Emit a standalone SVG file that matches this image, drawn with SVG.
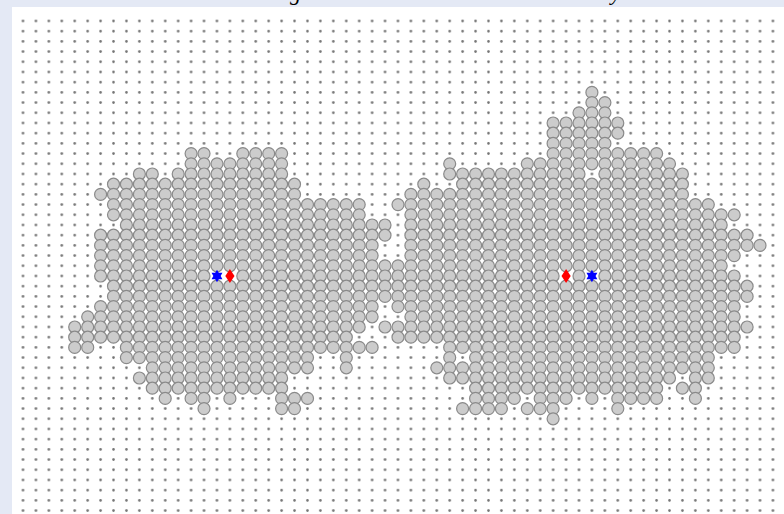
<svg xmlns="http://www.w3.org/2000/svg" width="784" height="514" viewBox="0 0 784 514">
<style>
.cells circle{fill:#cccccc;stroke:#8a8a8a;stroke-width:1.2}
.title{font-family:"Liberation Serif",serif;font-style:italic;font-size:22px;fill:#000}
</style>
<defs>
<pattern id="dots" x="16.535" y="15.9" width="12.93" height="10.2" patternUnits="userSpaceOnUse">
<circle cx="6.465" cy="5.1" r="1.3" fill="#747474"/>
</pattern>
</defs>
<rect x="0" y="0" width="784" height="514" fill="#e4e9f5"/>
<rect x="12" y="7" width="772" height="507" fill="#fff"/>
<rect id="grid" x="12" y="15" width="772" height="499" fill="url(#dots)"/>
<text class="title" x="290" y="0">g</text>
<text class="title" x="611" y="0">y</text>
<g id="cluster-left" class="cells">
<g transform="translate(0,153.6)"><circle cx="191.1" r="6"/><circle cx="204" r="6"/><circle cx="242.8" r="6"/><circle cx="255.7" r="6"/><circle cx="268.7" r="6"/><circle cx="281.6" r="6"/></g>
<g transform="translate(0,163.8)"><circle cx="191.1" r="6"/><circle cx="204" r="6"/><circle cx="217" r="6"/><circle cx="229.9" r="6"/><circle cx="242.8" r="6"/><circle cx="255.7" r="6"/><circle cx="268.7" r="6"/><circle cx="281.6" r="6"/></g>
<g transform="translate(0,174)"><circle cx="139.4" r="6"/><circle cx="152.3" r="6"/><circle cx="178.2" r="6"/><circle cx="191.1" r="6"/><circle cx="204" r="6"/><circle cx="217" r="6"/><circle cx="229.9" r="6"/><circle cx="242.8" r="6"/><circle cx="255.7" r="6"/><circle cx="268.7" r="6"/><circle cx="281.6" r="6"/></g>
<g transform="translate(0,184.2)"><circle cx="113.5" r="6"/><circle cx="126.4" r="6"/><circle cx="139.4" r="6"/><circle cx="152.3" r="6"/><circle cx="165.2" r="6"/><circle cx="178.2" r="6"/><circle cx="191.1" r="6"/><circle cx="204" r="6"/><circle cx="217" r="6"/><circle cx="229.9" r="6"/><circle cx="242.8" r="6"/><circle cx="255.7" r="6"/><circle cx="268.7" r="6"/><circle cx="281.6" r="6"/><circle cx="294.5" r="6"/></g>
<g transform="translate(0,194.4)"><circle cx="100.6" r="6"/><circle cx="113.5" r="6"/><circle cx="126.4" r="6"/><circle cx="139.4" r="6"/><circle cx="152.3" r="6"/><circle cx="165.2" r="6"/><circle cx="178.2" r="6"/><circle cx="191.1" r="6"/><circle cx="204" r="6"/><circle cx="217" r="6"/><circle cx="229.9" r="6"/><circle cx="242.8" r="6"/><circle cx="255.7" r="6"/><circle cx="268.7" r="6"/><circle cx="281.6" r="6"/><circle cx="294.5" r="6"/></g>
<g transform="translate(0,204.6)"><circle cx="113.5" r="6"/><circle cx="126.4" r="6"/><circle cx="139.4" r="6"/><circle cx="152.3" r="6"/><circle cx="165.2" r="6"/><circle cx="178.2" r="6"/><circle cx="191.1" r="6"/><circle cx="204" r="6"/><circle cx="217" r="6"/><circle cx="229.9" r="6"/><circle cx="242.8" r="6"/><circle cx="255.7" r="6"/><circle cx="268.7" r="6"/><circle cx="281.6" r="6"/><circle cx="294.5" r="6"/><circle cx="307.5" r="6"/><circle cx="320.4" r="6"/><circle cx="333.3" r="6"/><circle cx="346.3" r="6"/><circle cx="359.2" r="6"/></g>
<g transform="translate(0,214.8)"><circle cx="113.5" r="6"/><circle cx="126.4" r="6"/><circle cx="139.4" r="6"/><circle cx="152.3" r="6"/><circle cx="165.2" r="6"/><circle cx="178.2" r="6"/><circle cx="191.1" r="6"/><circle cx="204" r="6"/><circle cx="217" r="6"/><circle cx="229.9" r="6"/><circle cx="242.8" r="6"/><circle cx="255.7" r="6"/><circle cx="268.7" r="6"/><circle cx="281.6" r="6"/><circle cx="294.5" r="6"/><circle cx="307.5" r="6"/><circle cx="320.4" r="6"/><circle cx="333.3" r="6"/><circle cx="346.3" r="6"/><circle cx="359.2" r="6"/></g>
<g transform="translate(0,225)"><circle cx="126.4" r="6"/><circle cx="139.4" r="6"/><circle cx="152.3" r="6"/><circle cx="165.2" r="6"/><circle cx="178.2" r="6"/><circle cx="191.1" r="6"/><circle cx="204" r="6"/><circle cx="217" r="6"/><circle cx="229.9" r="6"/><circle cx="242.8" r="6"/><circle cx="255.7" r="6"/><circle cx="268.7" r="6"/><circle cx="281.6" r="6"/><circle cx="294.5" r="6"/><circle cx="307.5" r="6"/><circle cx="320.4" r="6"/><circle cx="333.3" r="6"/><circle cx="346.3" r="6"/><circle cx="359.2" r="6"/><circle cx="372.1" r="6"/><circle cx="385" r="6"/></g>
<g transform="translate(0,235.2)"><circle cx="100.6" r="6"/><circle cx="113.5" r="6"/><circle cx="126.4" r="6"/><circle cx="139.4" r="6"/><circle cx="152.3" r="6"/><circle cx="165.2" r="6"/><circle cx="178.2" r="6"/><circle cx="191.1" r="6"/><circle cx="204" r="6"/><circle cx="217" r="6"/><circle cx="229.9" r="6"/><circle cx="242.8" r="6"/><circle cx="255.7" r="6"/><circle cx="268.7" r="6"/><circle cx="281.6" r="6"/><circle cx="294.5" r="6"/><circle cx="307.5" r="6"/><circle cx="320.4" r="6"/><circle cx="333.3" r="6"/><circle cx="346.3" r="6"/><circle cx="359.2" r="6"/><circle cx="372.1" r="6"/><circle cx="385" r="6"/></g>
<g transform="translate(0,245.4)"><circle cx="100.6" r="6"/><circle cx="113.5" r="6"/><circle cx="126.4" r="6"/><circle cx="139.4" r="6"/><circle cx="152.3" r="6"/><circle cx="165.2" r="6"/><circle cx="178.2" r="6"/><circle cx="191.1" r="6"/><circle cx="204" r="6"/><circle cx="217" r="6"/><circle cx="229.9" r="6"/><circle cx="242.8" r="6"/><circle cx="255.7" r="6"/><circle cx="268.7" r="6"/><circle cx="281.6" r="6"/><circle cx="294.5" r="6"/><circle cx="307.5" r="6"/><circle cx="320.4" r="6"/><circle cx="333.3" r="6"/><circle cx="346.3" r="6"/><circle cx="359.2" r="6"/><circle cx="372.1" r="6"/></g>
<g transform="translate(0,255.6)"><circle cx="100.6" r="6"/><circle cx="113.5" r="6"/><circle cx="126.4" r="6"/><circle cx="139.4" r="6"/><circle cx="152.3" r="6"/><circle cx="165.2" r="6"/><circle cx="178.2" r="6"/><circle cx="191.1" r="6"/><circle cx="204" r="6"/><circle cx="217" r="6"/><circle cx="229.9" r="6"/><circle cx="242.8" r="6"/><circle cx="255.7" r="6"/><circle cx="268.7" r="6"/><circle cx="281.6" r="6"/><circle cx="294.5" r="6"/><circle cx="307.5" r="6"/><circle cx="320.4" r="6"/><circle cx="333.3" r="6"/><circle cx="346.3" r="6"/><circle cx="359.2" r="6"/><circle cx="372.1" r="6"/></g>
<g transform="translate(0,265.8)"><circle cx="100.6" r="6"/><circle cx="113.5" r="6"/><circle cx="126.4" r="6"/><circle cx="139.4" r="6"/><circle cx="152.3" r="6"/><circle cx="165.2" r="6"/><circle cx="178.2" r="6"/><circle cx="191.1" r="6"/><circle cx="204" r="6"/><circle cx="217" r="6"/><circle cx="229.9" r="6"/><circle cx="242.8" r="6"/><circle cx="255.7" r="6"/><circle cx="268.7" r="6"/><circle cx="281.6" r="6"/><circle cx="294.5" r="6"/><circle cx="307.5" r="6"/><circle cx="320.4" r="6"/><circle cx="333.3" r="6"/><circle cx="346.3" r="6"/><circle cx="359.2" r="6"/><circle cx="372.1" r="6"/><circle cx="385" r="6"/></g>
<g transform="translate(0,276)"><circle cx="100.6" r="6"/><circle cx="113.5" r="6"/><circle cx="126.4" r="6"/><circle cx="139.4" r="6"/><circle cx="152.3" r="6"/><circle cx="165.2" r="6"/><circle cx="178.2" r="6"/><circle cx="191.1" r="6"/><circle cx="204" r="6"/><circle cx="242.8" r="6"/><circle cx="255.7" r="6"/><circle cx="268.7" r="6"/><circle cx="281.6" r="6"/><circle cx="294.5" r="6"/><circle cx="307.5" r="6"/><circle cx="320.4" r="6"/><circle cx="333.3" r="6"/><circle cx="346.3" r="6"/><circle cx="359.2" r="6"/><circle cx="372.1" r="6"/><circle cx="385" r="6"/></g>
<g transform="translate(0,286.2)"><circle cx="113.5" r="6"/><circle cx="126.4" r="6"/><circle cx="139.4" r="6"/><circle cx="152.3" r="6"/><circle cx="165.2" r="6"/><circle cx="178.2" r="6"/><circle cx="191.1" r="6"/><circle cx="204" r="6"/><circle cx="217" r="6"/><circle cx="229.9" r="6"/><circle cx="242.8" r="6"/><circle cx="255.7" r="6"/><circle cx="268.7" r="6"/><circle cx="281.6" r="6"/><circle cx="294.5" r="6"/><circle cx="307.5" r="6"/><circle cx="320.4" r="6"/><circle cx="333.3" r="6"/><circle cx="346.3" r="6"/><circle cx="359.2" r="6"/><circle cx="372.1" r="6"/><circle cx="385" r="6"/></g>
<g transform="translate(0,296.4)"><circle cx="113.5" r="6"/><circle cx="126.4" r="6"/><circle cx="139.4" r="6"/><circle cx="152.3" r="6"/><circle cx="165.2" r="6"/><circle cx="178.2" r="6"/><circle cx="191.1" r="6"/><circle cx="204" r="6"/><circle cx="217" r="6"/><circle cx="229.9" r="6"/><circle cx="242.8" r="6"/><circle cx="255.7" r="6"/><circle cx="268.7" r="6"/><circle cx="281.6" r="6"/><circle cx="294.5" r="6"/><circle cx="307.5" r="6"/><circle cx="320.4" r="6"/><circle cx="333.3" r="6"/><circle cx="346.3" r="6"/><circle cx="359.2" r="6"/><circle cx="372.1" r="6"/><circle cx="385" r="6"/></g>
<g transform="translate(0,306.6)"><circle cx="100.6" r="6"/><circle cx="113.5" r="6"/><circle cx="126.4" r="6"/><circle cx="139.4" r="6"/><circle cx="152.3" r="6"/><circle cx="165.2" r="6"/><circle cx="178.2" r="6"/><circle cx="191.1" r="6"/><circle cx="204" r="6"/><circle cx="217" r="6"/><circle cx="229.9" r="6"/><circle cx="242.8" r="6"/><circle cx="255.7" r="6"/><circle cx="268.7" r="6"/><circle cx="281.6" r="6"/><circle cx="294.5" r="6"/><circle cx="307.5" r="6"/><circle cx="320.4" r="6"/><circle cx="333.3" r="6"/><circle cx="346.3" r="6"/><circle cx="359.2" r="6"/><circle cx="372.1" r="6"/></g>
<g transform="translate(0,316.8)"><circle cx="87.7" r="6"/><circle cx="100.6" r="6"/><circle cx="113.5" r="6"/><circle cx="126.4" r="6"/><circle cx="139.4" r="6"/><circle cx="152.3" r="6"/><circle cx="165.2" r="6"/><circle cx="178.2" r="6"/><circle cx="191.1" r="6"/><circle cx="204" r="6"/><circle cx="217" r="6"/><circle cx="229.9" r="6"/><circle cx="242.8" r="6"/><circle cx="255.7" r="6"/><circle cx="268.7" r="6"/><circle cx="281.6" r="6"/><circle cx="294.5" r="6"/><circle cx="307.5" r="6"/><circle cx="320.4" r="6"/><circle cx="333.3" r="6"/><circle cx="346.3" r="6"/><circle cx="359.2" r="6"/><circle cx="372.1" r="6"/></g>
<g transform="translate(0,327)"><circle cx="74.7" r="6"/><circle cx="87.7" r="6"/><circle cx="100.6" r="6"/><circle cx="113.5" r="6"/><circle cx="126.4" r="6"/><circle cx="139.4" r="6"/><circle cx="152.3" r="6"/><circle cx="165.2" r="6"/><circle cx="178.2" r="6"/><circle cx="191.1" r="6"/><circle cx="204" r="6"/><circle cx="217" r="6"/><circle cx="229.9" r="6"/><circle cx="242.8" r="6"/><circle cx="255.7" r="6"/><circle cx="268.7" r="6"/><circle cx="281.6" r="6"/><circle cx="294.5" r="6"/><circle cx="307.5" r="6"/><circle cx="320.4" r="6"/><circle cx="333.3" r="6"/><circle cx="346.3" r="6"/><circle cx="359.2" r="6"/><circle cx="385" r="6"/></g>
<g transform="translate(0,337.2)"><circle cx="74.7" r="6"/><circle cx="87.7" r="6"/><circle cx="100.6" r="6"/><circle cx="113.5" r="6"/><circle cx="126.4" r="6"/><circle cx="139.4" r="6"/><circle cx="152.3" r="6"/><circle cx="165.2" r="6"/><circle cx="178.2" r="6"/><circle cx="191.1" r="6"/><circle cx="204" r="6"/><circle cx="217" r="6"/><circle cx="229.9" r="6"/><circle cx="242.8" r="6"/><circle cx="255.7" r="6"/><circle cx="268.7" r="6"/><circle cx="281.6" r="6"/><circle cx="294.5" r="6"/><circle cx="307.5" r="6"/><circle cx="320.4" r="6"/><circle cx="333.3" r="6"/><circle cx="346.3" r="6"/></g>
<g transform="translate(0,347.4)"><circle cx="74.7" r="6"/><circle cx="87.7" r="6"/><circle cx="126.4" r="6"/><circle cx="139.4" r="6"/><circle cx="152.3" r="6"/><circle cx="165.2" r="6"/><circle cx="178.2" r="6"/><circle cx="191.1" r="6"/><circle cx="204" r="6"/><circle cx="217" r="6"/><circle cx="229.9" r="6"/><circle cx="242.8" r="6"/><circle cx="255.7" r="6"/><circle cx="268.7" r="6"/><circle cx="281.6" r="6"/><circle cx="294.5" r="6"/><circle cx="307.5" r="6"/><circle cx="320.4" r="6"/><circle cx="333.3" r="6"/><circle cx="346.3" r="6"/><circle cx="359.2" r="6"/><circle cx="372.1" r="6"/></g>
<g transform="translate(0,357.6)"><circle cx="126.4" r="6"/><circle cx="139.4" r="6"/><circle cx="152.3" r="6"/><circle cx="165.2" r="6"/><circle cx="178.2" r="6"/><circle cx="191.1" r="6"/><circle cx="204" r="6"/><circle cx="217" r="6"/><circle cx="229.9" r="6"/><circle cx="242.8" r="6"/><circle cx="255.7" r="6"/><circle cx="268.7" r="6"/><circle cx="281.6" r="6"/><circle cx="294.5" r="6"/><circle cx="307.5" r="6"/><circle cx="346.3" r="6"/></g>
<g transform="translate(0,367.8)"><circle cx="152.3" r="6"/><circle cx="165.2" r="6"/><circle cx="178.2" r="6"/><circle cx="191.1" r="6"/><circle cx="204" r="6"/><circle cx="217" r="6"/><circle cx="229.9" r="6"/><circle cx="242.8" r="6"/><circle cx="255.7" r="6"/><circle cx="268.7" r="6"/><circle cx="281.6" r="6"/><circle cx="294.5" r="6"/><circle cx="307.5" r="6"/><circle cx="346.3" r="6"/></g>
<g transform="translate(0,378)"><circle cx="139.4" r="6"/><circle cx="152.3" r="6"/><circle cx="165.2" r="6"/><circle cx="178.2" r="6"/><circle cx="191.1" r="6"/><circle cx="204" r="6"/><circle cx="217" r="6"/><circle cx="229.9" r="6"/><circle cx="242.8" r="6"/><circle cx="255.7" r="6"/><circle cx="268.7" r="6"/><circle cx="281.6" r="6"/></g>
<g transform="translate(0,388.2)"><circle cx="152.3" r="6"/><circle cx="165.2" r="6"/><circle cx="178.2" r="6"/><circle cx="191.1" r="6"/><circle cx="204" r="6"/><circle cx="217" r="6"/><circle cx="229.9" r="6"/><circle cx="242.8" r="6"/><circle cx="255.7" r="6"/><circle cx="268.7" r="6"/><circle cx="281.6" r="6"/></g>
<g transform="translate(0,398.4)"><circle cx="165.2" r="6"/><circle cx="191.1" r="6"/><circle cx="204" r="6"/><circle cx="229.9" r="6"/><circle cx="281.6" r="6"/><circle cx="294.5" r="6"/><circle cx="307.5" r="6"/></g>
<g transform="translate(0,408.6)"><circle cx="204" r="6"/><circle cx="281.6" r="6"/><circle cx="294.5" r="6"/></g>
</g>
<g id="cluster-right" class="cells">
<g transform="translate(0,92.4)"><circle cx="591.9" r="6"/></g>
<g transform="translate(0,102.6)"><circle cx="591.9" r="6"/><circle cx="604.9" r="6"/></g>
<g transform="translate(0,112.8)"><circle cx="579" r="6"/><circle cx="591.9" r="6"/><circle cx="604.9" r="6"/></g>
<g transform="translate(0,123)"><circle cx="553.1" r="6"/><circle cx="566.1" r="6"/><circle cx="579" r="6"/><circle cx="591.9" r="6"/><circle cx="604.9" r="6"/><circle cx="617.8" r="6"/></g>
<g transform="translate(0,133.2)"><circle cx="553.1" r="6"/><circle cx="566.1" r="6"/><circle cx="579" r="6"/><circle cx="591.9" r="6"/><circle cx="604.9" r="6"/><circle cx="617.8" r="6"/></g>
<g transform="translate(0,143.4)"><circle cx="553.1" r="6"/><circle cx="566.1" r="6"/><circle cx="579" r="6"/><circle cx="591.9" r="6"/><circle cx="604.9" r="6"/></g>
<g transform="translate(0,153.6)"><circle cx="553.1" r="6"/><circle cx="566.1" r="6"/><circle cx="579" r="6"/><circle cx="591.9" r="6"/><circle cx="604.9" r="6"/><circle cx="617.8" r="6"/><circle cx="630.7" r="6"/><circle cx="643.6" r="6"/><circle cx="656.6" r="6"/></g>
<g transform="translate(0,163.8)"><circle cx="449.7" r="6"/><circle cx="527.3" r="6"/><circle cx="540.2" r="6"/><circle cx="553.1" r="6"/><circle cx="566.1" r="6"/><circle cx="579" r="6"/><circle cx="591.9" r="6"/><circle cx="604.9" r="6"/><circle cx="617.8" r="6"/><circle cx="630.7" r="6"/><circle cx="643.6" r="6"/><circle cx="656.6" r="6"/><circle cx="669.5" r="6"/></g>
<g transform="translate(0,174)"><circle cx="449.7" r="6"/><circle cx="462.6" r="6"/><circle cx="475.6" r="6"/><circle cx="488.5" r="6"/><circle cx="501.4" r="6"/><circle cx="514.3" r="6"/><circle cx="527.3" r="6"/><circle cx="540.2" r="6"/><circle cx="553.1" r="6"/><circle cx="566.1" r="6"/><circle cx="579" r="6"/><circle cx="604.9" r="6"/><circle cx="617.8" r="6"/><circle cx="630.7" r="6"/><circle cx="643.6" r="6"/><circle cx="656.6" r="6"/><circle cx="669.5" r="6"/><circle cx="682.4" r="6"/></g>
<g transform="translate(0,184.2)"><circle cx="423.8" r="6"/><circle cx="462.6" r="6"/><circle cx="475.6" r="6"/><circle cx="488.5" r="6"/><circle cx="501.4" r="6"/><circle cx="514.3" r="6"/><circle cx="527.3" r="6"/><circle cx="540.2" r="6"/><circle cx="553.1" r="6"/><circle cx="566.1" r="6"/><circle cx="579" r="6"/><circle cx="591.9" r="6"/><circle cx="604.9" r="6"/><circle cx="617.8" r="6"/><circle cx="630.7" r="6"/><circle cx="643.6" r="6"/><circle cx="656.6" r="6"/><circle cx="669.5" r="6"/><circle cx="682.4" r="6"/></g>
<g transform="translate(0,194.4)"><circle cx="410.9" r="6"/><circle cx="423.8" r="6"/><circle cx="436.8" r="6"/><circle cx="449.7" r="6"/><circle cx="462.6" r="6"/><circle cx="475.6" r="6"/><circle cx="488.5" r="6"/><circle cx="501.4" r="6"/><circle cx="514.3" r="6"/><circle cx="527.3" r="6"/><circle cx="540.2" r="6"/><circle cx="553.1" r="6"/><circle cx="566.1" r="6"/><circle cx="579" r="6"/><circle cx="591.9" r="6"/><circle cx="604.9" r="6"/><circle cx="617.8" r="6"/><circle cx="630.7" r="6"/><circle cx="643.6" r="6"/><circle cx="656.6" r="6"/><circle cx="669.5" r="6"/><circle cx="682.4" r="6"/></g>
<g transform="translate(0,204.6)"><circle cx="398" r="6"/><circle cx="410.9" r="6"/><circle cx="423.8" r="6"/><circle cx="436.8" r="6"/><circle cx="449.7" r="6"/><circle cx="462.6" r="6"/><circle cx="475.6" r="6"/><circle cx="488.5" r="6"/><circle cx="501.4" r="6"/><circle cx="514.3" r="6"/><circle cx="527.3" r="6"/><circle cx="540.2" r="6"/><circle cx="553.1" r="6"/><circle cx="566.1" r="6"/><circle cx="579" r="6"/><circle cx="591.9" r="6"/><circle cx="604.9" r="6"/><circle cx="617.8" r="6"/><circle cx="630.7" r="6"/><circle cx="643.6" r="6"/><circle cx="656.6" r="6"/><circle cx="669.5" r="6"/><circle cx="682.4" r="6"/><circle cx="695.4" r="6"/><circle cx="708.3" r="6"/></g>
<g transform="translate(0,214.8)"><circle cx="410.9" r="6"/><circle cx="423.8" r="6"/><circle cx="436.8" r="6"/><circle cx="449.7" r="6"/><circle cx="462.6" r="6"/><circle cx="475.6" r="6"/><circle cx="488.5" r="6"/><circle cx="501.4" r="6"/><circle cx="514.3" r="6"/><circle cx="527.3" r="6"/><circle cx="540.2" r="6"/><circle cx="553.1" r="6"/><circle cx="566.1" r="6"/><circle cx="579" r="6"/><circle cx="591.9" r="6"/><circle cx="604.9" r="6"/><circle cx="617.8" r="6"/><circle cx="630.7" r="6"/><circle cx="643.6" r="6"/><circle cx="656.6" r="6"/><circle cx="669.5" r="6"/><circle cx="682.4" r="6"/><circle cx="695.4" r="6"/><circle cx="708.3" r="6"/><circle cx="721.2" r="6"/><circle cx="734.2" r="6"/></g>
<g transform="translate(0,225)"><circle cx="410.9" r="6"/><circle cx="423.8" r="6"/><circle cx="436.8" r="6"/><circle cx="449.7" r="6"/><circle cx="462.6" r="6"/><circle cx="475.6" r="6"/><circle cx="488.5" r="6"/><circle cx="501.4" r="6"/><circle cx="514.3" r="6"/><circle cx="527.3" r="6"/><circle cx="540.2" r="6"/><circle cx="553.1" r="6"/><circle cx="566.1" r="6"/><circle cx="579" r="6"/><circle cx="591.9" r="6"/><circle cx="604.9" r="6"/><circle cx="617.8" r="6"/><circle cx="630.7" r="6"/><circle cx="643.6" r="6"/><circle cx="656.6" r="6"/><circle cx="669.5" r="6"/><circle cx="682.4" r="6"/><circle cx="695.4" r="6"/><circle cx="708.3" r="6"/><circle cx="721.2" r="6"/></g>
<g transform="translate(0,235.2)"><circle cx="410.9" r="6"/><circle cx="423.8" r="6"/><circle cx="436.8" r="6"/><circle cx="449.7" r="6"/><circle cx="462.6" r="6"/><circle cx="475.6" r="6"/><circle cx="488.5" r="6"/><circle cx="501.4" r="6"/><circle cx="514.3" r="6"/><circle cx="527.3" r="6"/><circle cx="540.2" r="6"/><circle cx="553.1" r="6"/><circle cx="566.1" r="6"/><circle cx="579" r="6"/><circle cx="591.9" r="6"/><circle cx="604.9" r="6"/><circle cx="617.8" r="6"/><circle cx="630.7" r="6"/><circle cx="643.6" r="6"/><circle cx="656.6" r="6"/><circle cx="669.5" r="6"/><circle cx="682.4" r="6"/><circle cx="695.4" r="6"/><circle cx="708.3" r="6"/><circle cx="721.2" r="6"/><circle cx="734.2" r="6"/><circle cx="747.1" r="6"/></g>
<g transform="translate(0,245.4)"><circle cx="410.9" r="6"/><circle cx="423.8" r="6"/><circle cx="436.8" r="6"/><circle cx="449.7" r="6"/><circle cx="462.6" r="6"/><circle cx="475.6" r="6"/><circle cx="488.5" r="6"/><circle cx="501.4" r="6"/><circle cx="514.3" r="6"/><circle cx="527.3" r="6"/><circle cx="540.2" r="6"/><circle cx="553.1" r="6"/><circle cx="566.1" r="6"/><circle cx="579" r="6"/><circle cx="591.9" r="6"/><circle cx="604.9" r="6"/><circle cx="617.8" r="6"/><circle cx="630.7" r="6"/><circle cx="643.6" r="6"/><circle cx="656.6" r="6"/><circle cx="669.5" r="6"/><circle cx="682.4" r="6"/><circle cx="695.4" r="6"/><circle cx="708.3" r="6"/><circle cx="721.2" r="6"/><circle cx="734.2" r="6"/><circle cx="747.1" r="6"/><circle cx="760" r="6"/></g>
<g transform="translate(0,255.6)"><circle cx="410.9" r="6"/><circle cx="423.8" r="6"/><circle cx="436.8" r="6"/><circle cx="449.7" r="6"/><circle cx="462.6" r="6"/><circle cx="475.6" r="6"/><circle cx="488.5" r="6"/><circle cx="501.4" r="6"/><circle cx="514.3" r="6"/><circle cx="527.3" r="6"/><circle cx="540.2" r="6"/><circle cx="553.1" r="6"/><circle cx="566.1" r="6"/><circle cx="579" r="6"/><circle cx="591.9" r="6"/><circle cx="604.9" r="6"/><circle cx="617.8" r="6"/><circle cx="630.7" r="6"/><circle cx="643.6" r="6"/><circle cx="656.6" r="6"/><circle cx="669.5" r="6"/><circle cx="682.4" r="6"/><circle cx="695.4" r="6"/><circle cx="708.3" r="6"/><circle cx="721.2" r="6"/><circle cx="734.2" r="6"/></g>
<g transform="translate(0,265.8)"><circle cx="398" r="6"/><circle cx="410.9" r="6"/><circle cx="423.8" r="6"/><circle cx="436.8" r="6"/><circle cx="449.7" r="6"/><circle cx="462.6" r="6"/><circle cx="475.6" r="6"/><circle cx="488.5" r="6"/><circle cx="501.4" r="6"/><circle cx="514.3" r="6"/><circle cx="527.3" r="6"/><circle cx="540.2" r="6"/><circle cx="553.1" r="6"/><circle cx="566.1" r="6"/><circle cx="579" r="6"/><circle cx="591.9" r="6"/><circle cx="604.9" r="6"/><circle cx="617.8" r="6"/><circle cx="630.7" r="6"/><circle cx="643.6" r="6"/><circle cx="656.6" r="6"/><circle cx="669.5" r="6"/><circle cx="682.4" r="6"/><circle cx="695.4" r="6"/><circle cx="708.3" r="6"/><circle cx="721.2" r="6"/></g>
<g transform="translate(0,276)"><circle cx="398" r="6"/><circle cx="410.9" r="6"/><circle cx="423.8" r="6"/><circle cx="436.8" r="6"/><circle cx="449.7" r="6"/><circle cx="462.6" r="6"/><circle cx="475.6" r="6"/><circle cx="488.5" r="6"/><circle cx="501.4" r="6"/><circle cx="514.3" r="6"/><circle cx="527.3" r="6"/><circle cx="540.2" r="6"/><circle cx="553.1" r="6"/><circle cx="579" r="6"/><circle cx="604.9" r="6"/><circle cx="617.8" r="6"/><circle cx="630.7" r="6"/><circle cx="643.6" r="6"/><circle cx="656.6" r="6"/><circle cx="669.5" r="6"/><circle cx="682.4" r="6"/><circle cx="695.4" r="6"/><circle cx="708.3" r="6"/><circle cx="721.2" r="6"/><circle cx="734.2" r="6"/></g>
<g transform="translate(0,286.2)"><circle cx="398" r="6"/><circle cx="410.9" r="6"/><circle cx="423.8" r="6"/><circle cx="436.8" r="6"/><circle cx="449.7" r="6"/><circle cx="462.6" r="6"/><circle cx="475.6" r="6"/><circle cx="488.5" r="6"/><circle cx="501.4" r="6"/><circle cx="514.3" r="6"/><circle cx="527.3" r="6"/><circle cx="540.2" r="6"/><circle cx="553.1" r="6"/><circle cx="566.1" r="6"/><circle cx="579" r="6"/><circle cx="591.9" r="6"/><circle cx="604.9" r="6"/><circle cx="617.8" r="6"/><circle cx="630.7" r="6"/><circle cx="643.6" r="6"/><circle cx="656.6" r="6"/><circle cx="669.5" r="6"/><circle cx="682.4" r="6"/><circle cx="695.4" r="6"/><circle cx="708.3" r="6"/><circle cx="721.2" r="6"/><circle cx="734.2" r="6"/><circle cx="747.1" r="6"/></g>
<g transform="translate(0,296.4)"><circle cx="398" r="6"/><circle cx="410.9" r="6"/><circle cx="423.8" r="6"/><circle cx="436.8" r="6"/><circle cx="449.7" r="6"/><circle cx="462.6" r="6"/><circle cx="475.6" r="6"/><circle cx="488.5" r="6"/><circle cx="501.4" r="6"/><circle cx="514.3" r="6"/><circle cx="527.3" r="6"/><circle cx="540.2" r="6"/><circle cx="553.1" r="6"/><circle cx="566.1" r="6"/><circle cx="579" r="6"/><circle cx="591.9" r="6"/><circle cx="604.9" r="6"/><circle cx="617.8" r="6"/><circle cx="630.7" r="6"/><circle cx="643.6" r="6"/><circle cx="656.6" r="6"/><circle cx="669.5" r="6"/><circle cx="682.4" r="6"/><circle cx="695.4" r="6"/><circle cx="708.3" r="6"/><circle cx="721.2" r="6"/><circle cx="734.2" r="6"/><circle cx="747.1" r="6"/></g>
<g transform="translate(0,306.6)"><circle cx="398" r="6"/><circle cx="410.9" r="6"/><circle cx="423.8" r="6"/><circle cx="436.8" r="6"/><circle cx="449.7" r="6"/><circle cx="462.6" r="6"/><circle cx="475.6" r="6"/><circle cx="488.5" r="6"/><circle cx="501.4" r="6"/><circle cx="514.3" r="6"/><circle cx="527.3" r="6"/><circle cx="540.2" r="6"/><circle cx="553.1" r="6"/><circle cx="566.1" r="6"/><circle cx="579" r="6"/><circle cx="591.9" r="6"/><circle cx="604.9" r="6"/><circle cx="617.8" r="6"/><circle cx="630.7" r="6"/><circle cx="643.6" r="6"/><circle cx="656.6" r="6"/><circle cx="669.5" r="6"/><circle cx="682.4" r="6"/><circle cx="695.4" r="6"/><circle cx="708.3" r="6"/><circle cx="721.2" r="6"/><circle cx="734.2" r="6"/></g>
<g transform="translate(0,316.8)"><circle cx="410.9" r="6"/><circle cx="423.8" r="6"/><circle cx="436.8" r="6"/><circle cx="449.7" r="6"/><circle cx="462.6" r="6"/><circle cx="475.6" r="6"/><circle cx="488.5" r="6"/><circle cx="501.4" r="6"/><circle cx="514.3" r="6"/><circle cx="527.3" r="6"/><circle cx="540.2" r="6"/><circle cx="553.1" r="6"/><circle cx="566.1" r="6"/><circle cx="579" r="6"/><circle cx="591.9" r="6"/><circle cx="604.9" r="6"/><circle cx="617.8" r="6"/><circle cx="630.7" r="6"/><circle cx="643.6" r="6"/><circle cx="656.6" r="6"/><circle cx="669.5" r="6"/><circle cx="682.4" r="6"/><circle cx="695.4" r="6"/><circle cx="708.3" r="6"/><circle cx="721.2" r="6"/><circle cx="734.2" r="6"/></g>
<g transform="translate(0,327)"><circle cx="398" r="6"/><circle cx="410.9" r="6"/><circle cx="423.8" r="6"/><circle cx="436.8" r="6"/><circle cx="449.7" r="6"/><circle cx="462.6" r="6"/><circle cx="475.6" r="6"/><circle cx="488.5" r="6"/><circle cx="501.4" r="6"/><circle cx="514.3" r="6"/><circle cx="527.3" r="6"/><circle cx="540.2" r="6"/><circle cx="553.1" r="6"/><circle cx="566.1" r="6"/><circle cx="579" r="6"/><circle cx="591.9" r="6"/><circle cx="604.9" r="6"/><circle cx="617.8" r="6"/><circle cx="630.7" r="6"/><circle cx="643.6" r="6"/><circle cx="656.6" r="6"/><circle cx="669.5" r="6"/><circle cx="682.4" r="6"/><circle cx="695.4" r="6"/><circle cx="708.3" r="6"/><circle cx="721.2" r="6"/><circle cx="734.2" r="6"/><circle cx="747.1" r="6"/></g>
<g transform="translate(0,337.2)"><circle cx="398" r="6"/><circle cx="410.9" r="6"/><circle cx="423.8" r="6"/><circle cx="436.8" r="6"/><circle cx="449.7" r="6"/><circle cx="462.6" r="6"/><circle cx="475.6" r="6"/><circle cx="488.5" r="6"/><circle cx="501.4" r="6"/><circle cx="514.3" r="6"/><circle cx="527.3" r="6"/><circle cx="540.2" r="6"/><circle cx="553.1" r="6"/><circle cx="566.1" r="6"/><circle cx="579" r="6"/><circle cx="591.9" r="6"/><circle cx="604.9" r="6"/><circle cx="617.8" r="6"/><circle cx="630.7" r="6"/><circle cx="643.6" r="6"/><circle cx="656.6" r="6"/><circle cx="669.5" r="6"/><circle cx="682.4" r="6"/><circle cx="695.4" r="6"/><circle cx="708.3" r="6"/><circle cx="721.2" r="6"/><circle cx="734.2" r="6"/></g>
<g transform="translate(0,347.4)"><circle cx="449.7" r="6"/><circle cx="462.6" r="6"/><circle cx="475.6" r="6"/><circle cx="488.5" r="6"/><circle cx="501.4" r="6"/><circle cx="514.3" r="6"/><circle cx="527.3" r="6"/><circle cx="540.2" r="6"/><circle cx="553.1" r="6"/><circle cx="566.1" r="6"/><circle cx="579" r="6"/><circle cx="591.9" r="6"/><circle cx="604.9" r="6"/><circle cx="617.8" r="6"/><circle cx="630.7" r="6"/><circle cx="643.6" r="6"/><circle cx="656.6" r="6"/><circle cx="669.5" r="6"/><circle cx="682.4" r="6"/><circle cx="695.4" r="6"/><circle cx="708.3" r="6"/><circle cx="721.2" r="6"/><circle cx="734.2" r="6"/></g>
<g transform="translate(0,357.6)"><circle cx="449.7" r="6"/><circle cx="475.6" r="6"/><circle cx="488.5" r="6"/><circle cx="501.4" r="6"/><circle cx="514.3" r="6"/><circle cx="527.3" r="6"/><circle cx="540.2" r="6"/><circle cx="553.1" r="6"/><circle cx="566.1" r="6"/><circle cx="579" r="6"/><circle cx="591.9" r="6"/><circle cx="604.9" r="6"/><circle cx="617.8" r="6"/><circle cx="630.7" r="6"/><circle cx="643.6" r="6"/><circle cx="656.6" r="6"/><circle cx="669.5" r="6"/><circle cx="682.4" r="6"/><circle cx="695.4" r="6"/><circle cx="708.3" r="6"/></g>
<g transform="translate(0,367.8)"><circle cx="436.8" r="6"/><circle cx="449.7" r="6"/><circle cx="462.6" r="6"/><circle cx="475.6" r="6"/><circle cx="488.5" r="6"/><circle cx="501.4" r="6"/><circle cx="514.3" r="6"/><circle cx="527.3" r="6"/><circle cx="540.2" r="6"/><circle cx="553.1" r="6"/><circle cx="566.1" r="6"/><circle cx="579" r="6"/><circle cx="591.9" r="6"/><circle cx="604.9" r="6"/><circle cx="617.8" r="6"/><circle cx="630.7" r="6"/><circle cx="643.6" r="6"/><circle cx="656.6" r="6"/><circle cx="669.5" r="6"/><circle cx="682.4" r="6"/><circle cx="695.4" r="6"/><circle cx="708.3" r="6"/></g>
<g transform="translate(0,378)"><circle cx="449.7" r="6"/><circle cx="462.6" r="6"/><circle cx="475.6" r="6"/><circle cx="488.5" r="6"/><circle cx="501.4" r="6"/><circle cx="514.3" r="6"/><circle cx="527.3" r="6"/><circle cx="540.2" r="6"/><circle cx="553.1" r="6"/><circle cx="566.1" r="6"/><circle cx="579" r="6"/><circle cx="591.9" r="6"/><circle cx="604.9" r="6"/><circle cx="617.8" r="6"/><circle cx="630.7" r="6"/><circle cx="643.6" r="6"/><circle cx="656.6" r="6"/><circle cx="669.5" r="6"/><circle cx="695.4" r="6"/><circle cx="708.3" r="6"/></g>
<g transform="translate(0,388.2)"><circle cx="475.6" r="6"/><circle cx="488.5" r="6"/><circle cx="501.4" r="6"/><circle cx="514.3" r="6"/><circle cx="527.3" r="6"/><circle cx="540.2" r="6"/><circle cx="553.1" r="6"/><circle cx="566.1" r="6"/><circle cx="579" r="6"/><circle cx="591.9" r="6"/><circle cx="604.9" r="6"/><circle cx="617.8" r="6"/><circle cx="630.7" r="6"/><circle cx="643.6" r="6"/><circle cx="656.6" r="6"/><circle cx="682.4" r="6"/><circle cx="695.4" r="6"/></g>
<g transform="translate(0,398.4)"><circle cx="475.6" r="6"/><circle cx="488.5" r="6"/><circle cx="501.4" r="6"/><circle cx="514.3" r="6"/><circle cx="540.2" r="6"/><circle cx="553.1" r="6"/><circle cx="566.1" r="6"/><circle cx="591.9" r="6"/><circle cx="617.8" r="6"/><circle cx="630.7" r="6"/><circle cx="643.6" r="6"/><circle cx="656.6" r="6"/><circle cx="695.4" r="6"/></g>
<g transform="translate(0,408.6)"><circle cx="462.6" r="6"/><circle cx="475.6" r="6"/><circle cx="488.5" r="6"/><circle cx="501.4" r="6"/><circle cx="527.3" r="6"/><circle cx="540.2" r="6"/><circle cx="553.1" r="6"/><circle cx="617.8" r="6"/></g>
<g transform="translate(0,418.8)"><circle cx="553.1" r="6"/></g>
</g>
<g id="marker-left-star" transform="translate(217,276)"><polygon points="0,-6.3 1.82,-3.15 5.46,-3.15 3.64,0 5.46,3.15 1.82,3.15 0,6.3 -1.82,3.15 -5.46,3.15 -3.64,0 -5.46,-3.15 -1.82,-3.15" fill="#0000ff"/></g>
<g id="marker-left-diamond" transform="translate(229.9,276)"><polygon points="0,-7 4.6,0 0,7 -4.6,0" fill="#ff0000"/></g>
<g id="marker-right-diamond" transform="translate(566.1,276)"><polygon points="0,-7 4.6,0 0,7 -4.6,0" fill="#ff0000"/></g>
<g id="marker-right-star" transform="translate(591.9,276)"><polygon points="0,-6.3 1.82,-3.15 5.46,-3.15 3.64,0 5.46,3.15 1.82,3.15 0,6.3 -1.82,3.15 -5.46,3.15 -3.64,0 -5.46,-3.15 -1.82,-3.15" fill="#0000ff"/></g>
</svg>
